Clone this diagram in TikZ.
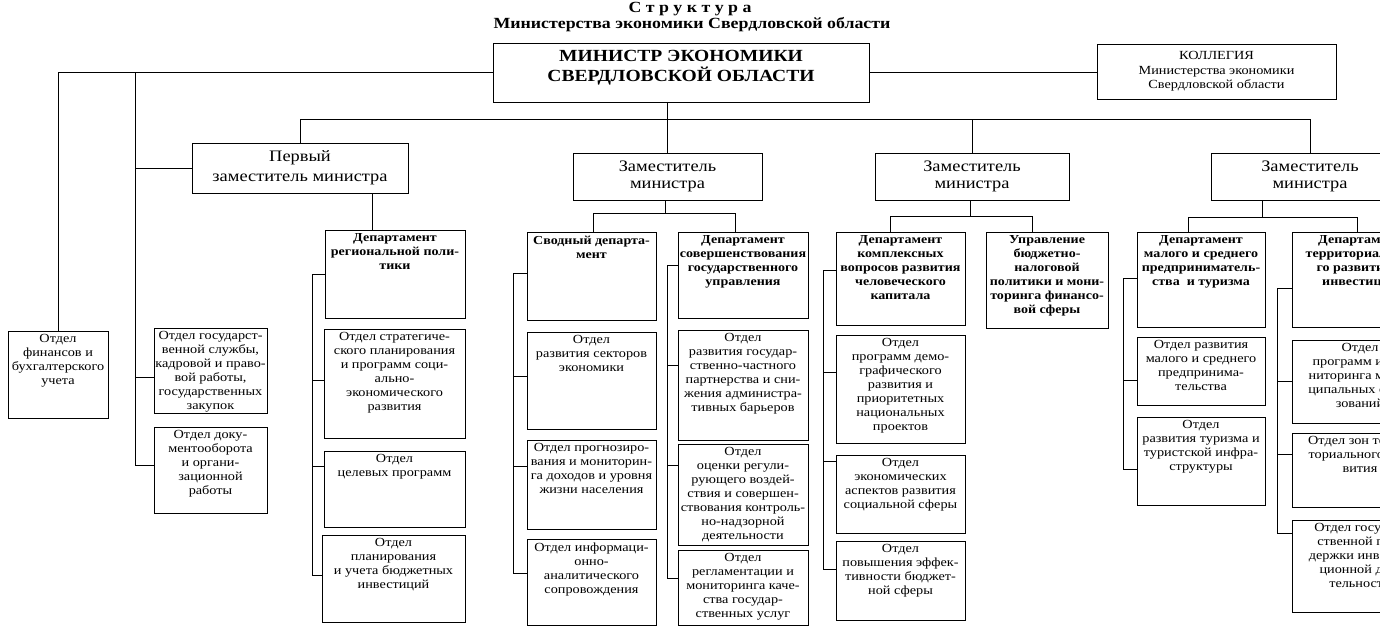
\documentclass[tikz,border=0pt]{standalone}
\usepackage{fontspec}
\setmainfont{Liberation Serif}[FakeStretch=1.15]
\begin{document}
\begin{tikzpicture}[x=1pt,y=-1pt,
  boxsty/.style={draw, line width=0.9pt, anchor=north west, inner sep=0pt, outer sep=0pt},
  txt/.style={anchor=north, align=center, inner sep=0pt, yshift=-3.5pt, font=\fontsize{12.4}{14}\selectfont},
  btxt/.style={txt, font=\fontsize{12.2}{14}\selectfont\bfseries},
  ctxt/.style={anchor=center, align=center, inner sep=0pt},
  ln/.style={line width=0.9pt}]
\newcommand\obox[7]{%
  \node[boxsty, minimum width={(#4-#2)*1pt}, minimum height={(#5-#3)*1pt}] (#1) at (#2,#3) {};
  \node[#6] (#1t) at (#1.north) {#7};}
\newcommand\cbox[6]{%
  \node[boxsty, minimum width={(#4-#2)*1pt}, minimum height={(#5-#3)*1pt}] (#1) at (#2,#3) {};}
\fill[white] (0,0) rectangle (1380,631);
\useasboundingbox (0,0) rectangle (1380,631);
\clip (0,0) rectangle (1380,631);
% title
\node[ctxt, font=\fontsize{15.5}{17}\selectfont\bfseries] (title1) at (690,9) {С т р у к т у р а};
\node[ctxt, font=\fontsize{15.5}{17}\selectfont\bfseries] (title2) at (692,25) {Министерства экономики Свердловской области};
% top level
\cbox{min}{493}{43}{869}{102}{}{}
\node[ctxt, font=\fontsize{17}{20}\selectfont\bfseries] (mint) at (681,68) {МИНИСТР ЭКОНОМИКИ\\СВЕРДЛОВСКОЙ ОБЛАСТИ};
\cbox{kol}{1097}{44}{1336}{99}{}{}
\node[ctxt, font=\fontsize{12.4}{14.5}\selectfont] (kolt) at (kol.center) {КОЛЛЕГИЯ\\Министерства экономики\\Свердловской области};
\cbox{perv}{192}{143}{408}{193}{}{}
\node[ctxt, font=\fontsize{16}{20}\selectfont] (pervt) at (perv.center) {Первый\\заместитель министра};
\cbox{zam2}{573}{153}{762}{200}{}{}
\node[ctxt, font=\fontsize{16}{17.5}\selectfont] (zam2t) at (zam2.center) {Заместитель\\министра};
\cbox{zam3}{875}{153}{1069}{200}{}{}
\node[ctxt, font=\fontsize{16}{17.5}\selectfont] (zam3t) at (zam3.center) {Заместитель\\министра};
\cbox{zam4}{1211}{153}{1409}{200}{}{}
\node[ctxt, font=\fontsize{16}{17.5}\selectfont] (zam4t) at (zam4.center) {Заместитель\\министра};
% left column
\obox{fin}{8}{331}{108}{418}{txt}{Отдел\\финансов и\\бухгалтерского\\учета}
\obox{gos}{154}{328}{267}{413}{txt}{Отдел государст-\\венной службы,\\кадровой и право-\\вой работы,\\государственных\\закупок}
\obox{doc}{154}{427}{267}{513}{txt}{Отдел доку-\\ментооборота\\и органи-\\зационной\\работы}
% column C
\obox{dreg}{325}{230}{465}{318}{btxt}{Департамент\\региональной поли-\\тики}
\obox{strat}{324}{329}{465}{438}{txt}{Отдел стратегиче-\\ского планирования\\и программ соци-\\ально-\\экономического\\развития}
\obox{cel}{324}{451}{465}{527}{txt}{Отдел\\целевых программ}
\obox{plan}{322}{535}{465}{622}{txt}{Отдел\\планирования\\и учета бюджетных\\инвестиций}
% column D
\obox{svod}{527}{232}{656}{320}{btxt}{Сводный департа-\\мент}
\obox{sekt}{527}{332}{656}{429}{txt}{Отдел\\развития секторов\\экономики}
\obox{prog}{527}{440}{656}{529}{txt}{Отдел прогнозиро-\\вания и мониторин-\\га доходов и уровня\\жизни населения}
\obox{info}{527}{539}{656}{625}{txt}{Отдел информаци-\\онно-\\аналитического\\сопровождения}
% column E
\obox{dsov}{678}{232}{808}{318}{btxt}{Департамент\\совершенствования\\государственного\\управления}
\obox{gchp}{678}{330}{808}{440}{txt}{Отдел\\развития государ-\\ственно-частного\\партнерства и сни-\\жения администра-\\тивных барьеров}
\obox{ocen}{678}{444}{808}{545}{txt}{Отдел\\оценки регули-\\рующего воздей-\\ствия и совершен-\\ствования контроль-\\но-надзорной\\деятельности}
\obox{regl}{678}{550}{808}{625}{txt}{Отдел\\регламентации и\\мониторинга каче-\\ства государ-\\ственных услуг}
% column F
\obox{dkom}{836}{232}{965}{325}{btxt}{Департамент\\комплексных\\вопросов развития\\человеческого\\капитала}
\obox{dem}{836}{335}{965}{443}{txt}{Отдел\\программ демо-\\графического\\развития и\\приоритетных\\национальных\\проектов}
\obox{econ}{836}{455}{965}{533}{txt}{Отдел\\экономических\\аспектов развития\\социальной сферы}
\obox{eff}{836}{541}{965}{620}{txt}{Отдел\\повышения эффек-\\тивности бюджет-\\ной сферы}
\obox{upr}{986}{232}{1108}{328}{btxt}{Управление\\бюджетно-\\налоговой\\политики и мони-\\торинга финансо-\\вой сферы}
% column G
\obox{dmal}{1137}{232}{1265}{327}{btxt}{Департамент\\малого и среднего\\предприниматель-\\ства~ и туризма}
\obox{omal}{1137}{337}{1265}{405}{txt}{Отдел развития\\малого и среднего\\предпринима-\\тельства}
\obox{tur}{1137}{417}{1265}{505}{txt}{Отдел\\развития туризма и\\туристской инфра-\\структуры}
% column H
\obox{dter}{1292}{232}{1428}{327}{btxt}{Департамент\\территориально-\\го развития и\\инвестиций}
\obox{opm}{1292}{340}{1428}{423}{txt}{Отдел\\программ и мо-\\ниторинга муни-\\ципальных обра-\\зований}
\obox{ozon}{1292}{433}{1428}{507}{txt}{Отдел зон терри-\\ториального раз-\\вития}
\obox{opod}{1292}{520}{1428}{612}{txt}{Отдел государ-\\ственной под-\\держки инвести-\\ционной дея-\\тельности}
% ---- connectors ----
\draw[ln] (min.east) -- (min.east -| kol.west);
\draw[ln] (min.west) -| (fin.north);
\coordinate (b1) at (135,72.5);
\coordinate (b2) at (135,465);
\draw[ln] (b1) -- (b2) -- (b2 -| doc.west);
\coordinate (b3) at (135,377);
\draw[ln] (b3) -- (b3 -| gos.west);
\draw[ln] (b1 |- perv.west) -- (perv.west);
\coordinate (bus) at (0,119);
\draw[ln] (perv.north) -- (perv.north |- bus) -- (zam4.north |- bus) -- (zam4.north);
\draw[ln] (zam3.north) -- (zam3.north |- bus);
\draw[ln] (min.south -| zam2.north) -- (zam2.north);
\coordinate (p1) at (372,0);
\draw[ln] (p1 |- perv.south) -- (p1 |- dreg.north);
% under zam2
\coordinate (z2a) at (665,213);
\coordinate (z2l) at (593,213);
\coordinate (z2r) at (735,213);
\draw[ln] (zam2.south -| z2a) -- (z2a);
\draw[ln] (z2l |- svod.north) -- (z2l) -- (z2r) -- (z2r |- dsov.north);
% under zam3
\coordinate (z3a) at (970,216);
\coordinate (z3l) at (890,216);
\coordinate (z3r) at (1032,216);
\draw[ln] (zam3.south -| z3a) -- (z3a);
\draw[ln] (z3l |- dkom.north) -- (z3l) -- (z3r) -- (z3r |- upr.north);
% under zam4
\coordinate (z4a) at (1262,217);
\coordinate (z4l) at (1188,217);
\coordinate (z4r) at (1357,217);
\draw[ln] (zam4.south -| z4a) -- (z4a);
\draw[ln] (z4l |- dmal.north) -- (z4l) -- (z4r) -- (z4r |- dter.north);
% rails
\foreach \rx/\items/\first/\last in {
  312/{274/dreg,380/strat,466/cel,575/plan}/274/575,
  513/{273/svod,376/sekt,466/prog,573/info}/273/573,
  667/{265/dsov,365/gchp,465/ocen,578/regl}/265/578,
  823/{270/dkom,372/dem,461/econ,569/eff}/270/569,
  1123/{278/dmal,380/omal,469/tur}/278/469,
  1277/{288/dter,381/opm,454/ozon,533/opod}/288/533}{
  \coordinate (rtop) at (\rx,\first);
  \coordinate (rbot) at (\rx,\last);
  \draw[ln] (rtop) -- (rbot);
  \foreach \yy/\nn in \items {
    \coordinate (s\nn) at (\rx,\yy);
    \draw[ln] (s\nn) -- (s\nn -| \nn.west);
  }
}
\end{tikzpicture}
\end{document}
